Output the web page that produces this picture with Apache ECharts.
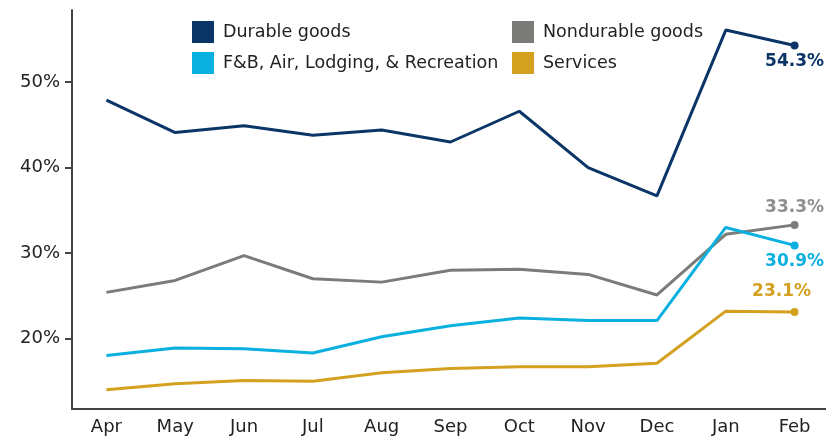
<!DOCTYPE html>
<html>
<head>
<meta charset="utf-8">
<script src="https://cdn.jsdelivr.net/npm/echarts@6/dist/echarts.min.js"></script>
<style>
    html, body { margin: 0; padding: 0; background: #fff; }
    #chart { width: 826px; height: 436px; }
</style>
</head>
<body>
<div id="chart"></div>
<script>
const months = ['Apr', 'May', 'Jun', 'Jul', 'Aug', 'Sep', 'Oct', 'Nov', 'Dec', 'Jan', 'Feb'];
const durable = [47.9, 44.1, 44.9, 43.8, 44.4, 43.0, 46.6, 40.0, 36.7, 56.1, 54.3];
const nondurable = [25.4, 26.8, 29.7, 27.0, 26.6, 28.0, 28.1, 27.5, 25.1, 32.2, 33.3];
const fbAir = [18.0, 18.9, 18.8, 18.3, 20.2, 21.5, 22.4, 22.1, 22.1, 33.0, 30.9];
const services = [14.0, 14.7, 15.1, 15.0, 16.0, 16.5, 16.7, 16.7, 17.1, 23.2, 23.1];
const yTicks = [20, 30, 40, 50];

const FONT = '"DejaVu Sans", Verdana, sans-serif';

// only the last point gets a dot and a value label
function withEndLabel(values, position, color, distance, offset) {
    return values.map(function (v, i) {
        if (i !== values.length - 1) {
            return v;
        }
        return {
            value: v,
            symbol: 'circle',
            symbolSize: 8,
            label: {
                show: true,
                position: position,
                distance: distance,
                offset: offset || [0, 0],
                color: color,
                fontFamily: FONT,
                fontWeight: 'bold',
                fontSize: 17,
                formatter: function (p) { return p.value.toFixed(1) + '%'; }
            }
        };
    });
}

function lineSeries(name, values, color, labelPos, labelColor, distance, offset) {
    return {
        name: name,
        type: 'line',
        symbol: 'none',
        data: withEndLabel(values, labelPos, labelColor, distance, offset),
        lineStyle: { color: color, width: 3 },
        itemStyle: { color: color },
        emphasis: { disabled: true },
        animation: false
    };
}

let myChart = echarts.init(document.getElementById('chart'));

let legendText = { color: '#222', fontFamily: FONT, fontSize: 17.5, padding: [0, 0, 0, 4] };

let option = {
    legend: [
        {
            orient: 'vertical',
            left: 192,
            top: 21,
            padding: 0,
            itemWidth: 22,
            itemHeight: 22,
            itemGap: 9,
            icon: 'rect',
            textStyle: legendText,
            data: ['Durable goods', 'F&B, Air, Lodging, & Recreation']
        },
        {
            orient: 'vertical',
            left: 512,
            top: 21,
            padding: 0,
            itemWidth: 22,
            itemHeight: 22,
            itemGap: 9,
            icon: 'rect',
            textStyle: legendText,
            data: ['Nondurable goods', 'Services']
        }
    ],
    grid: {
        left: 72,
        width: 757,
        top: 10,
        bottom: 27,
        containLabel: false,
        outerBoundsMode: 'none'
    },
    xAxis: {
        type: 'category',
        data: months,
        boundaryGap: true,
        axisLine: { lineStyle: { color: '#444', width: 2 } },
        axisTick: { length: 6, lineStyle: { color: '#444', width: 2 } },
        axisLabel: { color: '#222', fontFamily: FONT, fontSize: 18, margin: 9 }
    },
    yAxis: {
        type: 'value',
        min: 11.75,
        max: 58.45,
        splitLine: { show: false },
        axisLine: { show: true, lineStyle: { color: '#444', width: 2 } },
        axisTick: { show: true, length: 7, customValues: yTicks, lineStyle: { color: '#444', width: 2 } },
        axisLabel: {
            color: '#222',
            fontFamily: FONT,
            fontSize: 18,
            margin: 12,
            customValues: yTicks,
            formatter: '{value}%'
        }
    },
    series: [
        lineSeries('Durable goods', durable, '#0b3566', 'bottom', '#0b3566', 4),
        lineSeries('Nondurable goods', nondurable, '#7b7c78', 'top', '#8f8f8f', 5),
        lineSeries('F&B, Air, Lodging, & Recreation', fbAir, '#0ab0e0', 'bottom', '#0ab0e0', 4),
        lineSeries('Services', services, '#d4a020', 'top', '#d4a020', 8, [-13, 0])
    ]
};

myChart.setOption(option);
</script>
</body>
</html>
